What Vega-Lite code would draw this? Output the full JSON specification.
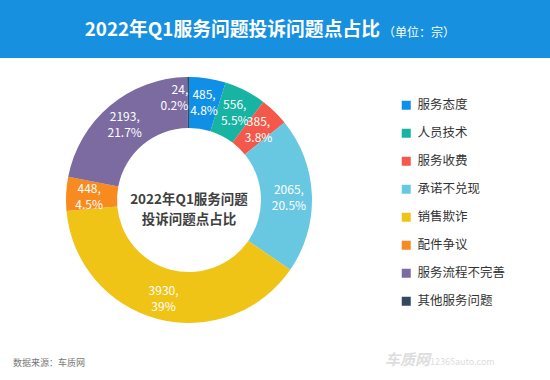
{
  "$schema": "https://vega.github.io/schema/vega-lite/v6.json",
  "padding": 0,
  "spacing": 0,
  "background": "#ffffff",
  "config": {
    "view": {"stroke": null},
    "font": "Noto Sans CJK SC",
    "concat": {"spacing": 0}
  },
  "vconcat": [
    {
      "width": 550,
      "height": 58,
      "view": {"fill": "#1790e0", "stroke": null},
      "data": {"values": [{"title": "2022年Q1服务问题投诉问题点占比", "unit": "（单位：宗）"}]},
      "layer": [
        {
          "mark": {"type": "text", "align": "right", "baseline": "middle", "dx": 105, "dy": 1, "fontSize": 18.8, "fontWeight": "bold", "color": "#ffffff"},
          "encoding": {"text": {"field": "title", "type": "nominal"}}
        },
        {
          "mark": {"type": "text", "align": "left", "baseline": "middle", "dx": 108, "dy": 4, "fontSize": 12, "color": "#ffffff"},
          "encoding": {"text": {"field": "unit", "type": "nominal"}}
        }
      ]
    },
    {
      "width": 378,
      "height": 284,
      "data": {
        "values": [
          {"idx": 1, "category": "服务态度", "value": 485, "label": "485, 4.8%"},
          {"idx": 2, "category": "人员技术", "value": 556, "label": "556, 5.5%"},
          {"idx": 3, "category": "服务收费", "value": 385, "label": "385, 3.8%"},
          {"idx": 4, "category": "承诺不兑现", "value": 2065, "label": "2065, 20.5%"},
          {"idx": 5, "category": "销售欺诈", "value": 3930, "label": "3930, 39%"},
          {"idx": 6, "category": "配件争议", "value": 448, "label": "448, 4.5%"},
          {"idx": 7, "category": "服务流程不完善", "value": 2193, "label": "2193, 21.7%"},
          {"idx": 8, "category": "其他服务问题", "value": 24, "label": "24, 0.2%"}
        ]
      },
      "layer": [
        {
          "mark": {"type": "arc", "innerRadius": 72, "outerRadius": 123},
          "encoding": {
            "theta": {"field": "value", "type": "quantitative", "stack": true},
            "order": {"field": "idx", "type": "quantitative"},
            "color": {
              "field": "category",
              "type": "nominal",
              "scale": {
                "domain": ["服务态度", "人员技术", "服务收费", "承诺不兑现", "销售欺诈", "配件争议", "服务流程不完善", "其他服务问题"],
                "range": ["#0f8fe6", "#17b3a3", "#f4584a", "#68c8e2", "#efc417", "#f78b1f", "#7b6ba0", "#34495e"]
              },
              "legend": {
                "orient": "none",
                "legendX": 400,
                "legendY": 99,
                "title": null,
                "symbolType": "square",
                "symbolSize": 81,
                "symbolStrokeWidth": 0,
                "labelFontSize": 12.5,
                "labelColor": "#333333",
                "labelFont": "Noto Sans CJK SC",
                "rowPadding": 15,
                "labelOffset": 5,
                "padding": 0
              }
            }
          }
        },
        {
          "mark": {"type": "text", "radius": 100, "fontSize": 12, "color": "#ffffff", "lineBreak": " ", "lineHeight": 16, "align": "center", "baseline": "middle", "dy": -6},
          "encoding": {
            "theta": {"field": "value", "type": "quantitative", "stack": true},
            "order": {"field": "idx", "type": "quantitative"},
            "detail": {"field": "category", "type": "nominal"},
            "text": {"condition": {"test": "datum.category === '其他服务问题'", "value": ""}, "field": "label", "type": "nominal"}
          }
        },
        {
          "mark": {"type": "text", "radius": 100, "fontSize": 12, "color": "#ffffff", "lineBreak": " ", "lineHeight": 16, "align": "right", "baseline": "middle", "dx": 0, "dy": -10},
          "encoding": {
            "theta": {"field": "value", "type": "quantitative", "stack": true},
            "order": {"field": "idx", "type": "quantitative"},
            "detail": {"field": "category", "type": "nominal"},
            "text": {"condition": {"test": "datum.category === '其他服务问题'", "field": "label", "type": "nominal"}, "value": ""}
          }
        },
        {
          "data": {"values": [{"c": "2022年Q1服务问题|投诉问题点占比"}]},
          "mark": {"type": "text", "lineBreak": "|", "fontSize": 13.5, "fontWeight": "bold", "color": "#404040", "lineHeight": 20, "dy": 0, "align": "center", "baseline": "middle"},
          "encoding": {"text": {"field": "c", "type": "nominal"}}
        }
      ]
    },
    {
      "width": 550,
      "height": 38,
      "data": {"values": [{"src": "数据来源：车质网", "wm": "车质网", "url": "12365auto.com"}]},
      "layer": [
        {
          "mark": {"type": "text", "align": "left", "baseline": "middle", "dx": -262, "dy": 2, "fontSize": 9, "color": "#777777"},
          "encoding": {"text": {"field": "src", "type": "nominal"}}
        },
        {
          "mark": {"type": "text", "align": "left", "baseline": "middle", "dx": 110, "dy": -1, "fontSize": 15, "fontStyle": "italic", "fontWeight": "bold", "color": "#dddddd"},
          "encoding": {"text": {"field": "wm", "type": "nominal"}}
        },
        {
          "mark": {"type": "text", "align": "left", "baseline": "middle", "dx": 155, "dy": 1, "fontSize": 9, "color": "#dddddd"},
          "encoding": {"text": {"field": "url", "type": "nominal"}}
        }
      ]
    }
  ]
}
